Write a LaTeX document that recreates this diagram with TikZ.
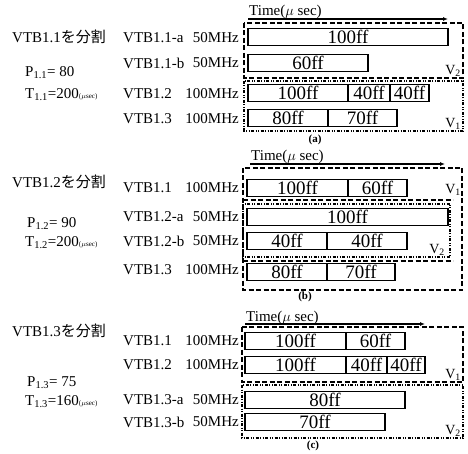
\documentclass[tikz,border=0pt]{standalone}
\usepackage{fontspec}
\setmainfont{Liberation Serif}
\newfontfamily\jpfont{Noto Sans CJK JP}
\usetikzlibrary{arrows.meta,calc,positioning}

\begin{document}
\begin{tikzpicture}[x=1pt,y=-1pt,every node/.style={inner sep=0pt},lab/.style={font=\fontsize{15}{15}\selectfont},seg/.style={draw,line width=1.2pt,font=\fontsize{19}{19}\selectfont,minimum height=17pt},vdash/.style={dash pattern=on 5pt off 2.5pt,line width=1.1pt},vdot/.style={dash pattern=on 3pt off 1.5pt on 1pt off 1.5pt on 1pt off 1.5pt,line width=1.1pt},timearrow/.style={-{Latex[length=5pt,width=4pt]},line width=1.2pt},vlab/.style={font=\fontsize{14}{14}\selectfont},caplab/.style={font=\fontsize{11}{11}\selectfont\bfseries}]
\useasboundingbox[fill=white] (0,0) rectangle (468,454);

% (a)
\node[lab,anchor=west] (ta) at (12,37) {VTB1.1{\jpfont を分割}};
\node[lab,anchor=west] (pa) at (25,73) {P\textsubscript{1.1}= 80};
\node[lab,anchor=west] (ua) at (25,95) {T\textsubscript{1.1}=200{\fontsize{7}{7}\selectfont ($\mu$sec)}};
\foreach \y/\n/\f [count=\i] in {38/VTB1.1-a/50MHz,63/VTB1.1-b/50MHz,94/VTB1.2/100MHz,119/VTB1.3/100MHz} {\node[lab,anchor=west] (na\i) at (123,\y) {\n}; \node[lab,anchor=east] (fa\i) at (239,\y) {\f};}
\coordinate (a0) at (248,19); \coordinate (a1) at (448,19);
\node[lab,anchor=base west] (tma) at (249,16) {Time($\mu$ sec)};
\draw[timearrow] (a0) -- (a1);
\draw[vdash] (244,23) rectangle (463,78); \draw[vdot] (244,81) rectangle (463,131);
\node[vlab] (va2) at (453,71) {V\textsubscript{2}}; \node[vlab] (va1) at (453,124) {V\textsubscript{1}};
\foreach \l/\r/\y/\t [count=\i] in {248/448/37/100ff,248/368/63/60ff,248/348/93/100ff,348/390/93/40ff,390/429/93/40ff,248/328/118/80ff,328/397/118/70ff} {\node[seg,minimum width={\r-\l}] (sa\i) at ({(\l+\r)/2},\y) {\t};}
\node[caplab] (ca) at (315,140) {(a)};

% (b)
\node[lab,anchor=west] (tb) at (12,182) {VTB1.2{\jpfont を分割}};
\node[lab,anchor=west] (pb) at (27,224) {P\textsubscript{1.2}= 90};
\node[lab,anchor=west] (ub) at (25,243) {T\textsubscript{1.2}=200{\fontsize{7}{7}\selectfont ($\mu$sec)}};
\foreach \y/\n/\f [count=\i] in {188/VTB1.1/100MHz,217/VTB1.2-a/50MHz,241/VTB1.2-b/50MHz,270/VTB1.3/100MHz} {\node[lab,anchor=west] (nb\i) at (123,\y) {\n}; \node[lab,anchor=east] (fb\i) at (239,\y) {\f};}
\coordinate (b0) at (250,164); \coordinate (b1) at (445,164);
\node[lab,anchor=base west] (tmb) at (251,161) {Time($\mu$ sec)};
\draw[timearrow] (b0) -- (b1);
\draw[vdash] (243,168) rectangle (462,290); \draw[vdash] (243,200) -- (453,200); \draw[vdash] (243,261) -- (453,261);
\draw[vdot] (243,204) rectangle (450,257);
\node[vlab] (vb1) at (453,190) {V\textsubscript{1}}; \node[vlab] (vb2) at (437,250) {V\textsubscript{2}};
\foreach \l/\r/\y/\t [count=\i] in {247/348/188/100ff,348/407/188/60ff,247/448/217/100ff,247/327/241/40ff,327/407/241/40ff,247/327/272/80ff,327/395/272/70ff} {\node[seg,minimum width={\r-\l}] (sb\i) at ({(\l+\r)/2},\y) {\t};}
\node[caplab] (cb) at (305,297) {(b)};

% (c)
\node[lab,anchor=west] (tc) at (12,331) {VTB1.3{\jpfont を分割}};
\node[lab,anchor=west] (pc) at (27,383) {P\textsubscript{1.3}= 75};
\node[lab,anchor=west] (uc) at (25,402) {T\textsubscript{1.3}=160{\fontsize{7}{7}\selectfont ($\mu$sec)}};
\foreach \y/\n/\f [count=\i] in {341/VTB1.1/100MHz,365/VTB1.2/100MHz,400/VTB1.3-a/50MHz,422/VTB1.3-b/50MHz} {\node[lab,anchor=west] (nc\i) at (123,\y) {\n}; \node[lab,anchor=east] (fc\i) at (239,\y) {\f};}
\coordinate (c0) at (245,324); \coordinate (c1) at (425,324);
\node[lab,anchor=base west] (tmc) at (246,321) {Time($\mu$ sec)};
\draw[timearrow] (c0) -- (c1);
\draw[vdash] (242,327) rectangle (463,382); \draw[vdot] (242,385) rectangle (463,438);
\node[vlab] (vc1) at (453,375) {V\textsubscript{1}}; \node[vlab] (vc2) at (453,431) {V\textsubscript{2}};
\foreach \l/\r/\y/\t [count=\i] in {245/346/341/100ff,346/405/341/60ff,245/346/365/100ff,346/387/365/40ff,387/425/365/40ff,245/405/400/80ff,245/385/422/70ff} {\node[seg,minimum width={\r-\l}] (sc\i) at ({(\l+\r)/2},\y) {\t};}
\node[caplab] (cc) at (313,446) {(c)};

\end{tikzpicture}
\end{document}
